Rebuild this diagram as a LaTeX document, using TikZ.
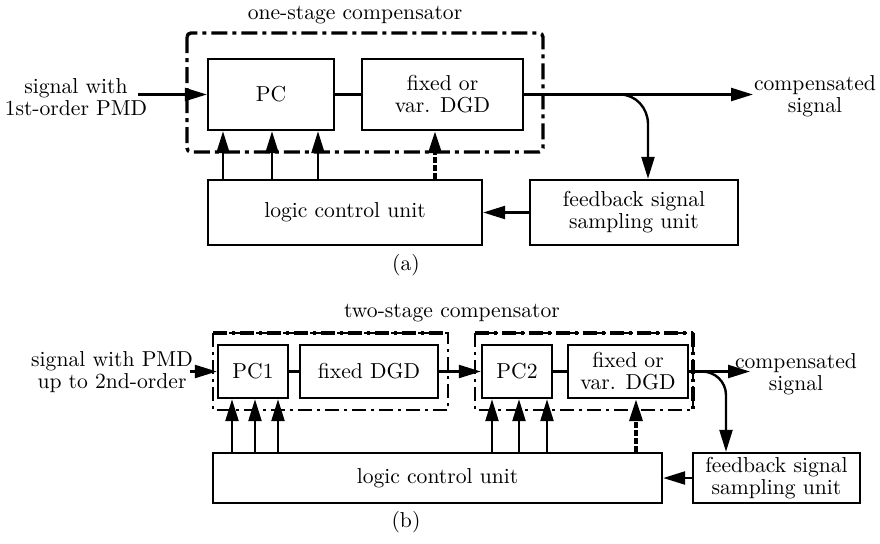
\documentclass[tikz,border=0pt]{standalone}
\usetikzlibrary{arrows.meta}
\begin{document}
\begin{tikzpicture}[x=0.5pt,y=-0.5pt,
  font=\fontsize{10.8}{11}\selectfont,
  blk/.style={draw,line width=1.2pt,inner sep=0pt,align=center},
  lbl/.style={inner sep=0pt,align=center},
  arr/.style={line width=1.2pt,-{Triangle[length=11pt,width=6.5pt]}},
  ln/.style={line width=1.2pt},
  ctl/.style={line width=1.8pt,dash pattern=on 3pt off 1pt,-{Triangle[length=11pt,width=6.5pt]}},
  stagea/.style={line width=1.7pt,dash pattern=on 8pt off 2.5pt on 2pt off 2.5pt,rounded corners=2pt},
  stageb/.style={line width=0.8pt,dash pattern=on 7pt off 2.5pt on 1.5pt off 2.5pt},
  stagetop/.style={line width=1.6pt,dash pattern=on 7pt off 2.5pt on 1.5pt off 2.5pt}]
\useasboundingbox (0,0) rectangle (880,543);

% ---------------- (a) ----------------
\node[lbl] (ttla) at (355,15) {one-stage compensator};
\draw[stagea] (187,33) rectangle (543,152);
\node[blk,minimum width=63pt,minimum height=35.5pt] (pc) at (271,94.5) {PC};
\node[blk,minimum width=80.5pt,minimum height=35.5pt] (dgda) at (442.5,94.5) {fixed or\\var. DGD};
\node[blk,minimum width=137pt,minimum height=32.5pt] (logica) at (345,212.5) {logic control unit};
\node[blk,minimum width=104pt,minimum height=32.5pt] (fba) at (634,212.5) {feedback signal\\sampling unit};
\node[lbl] (ina) at (76,97) {signal with\\1st-order PMD};
\node[lbl] (outta) at (815,96) {compensated\\signal};
\node[lbl] (capa) at (406,265) {(a)};
\coordinate (ina0) at (138,94.5);
\coordinate (outa) at (753,94.5);
\coordinate (bra) at (620,94.5);
\coordinate (bra2) at (648,124);

\draw[arr] (ina0) -- (pc.west);
\draw[ln] (pc.east) -- (dgda.west);
\draw[arr] (dgda.east) -- (outa);
\draw[arr] (bra) to[out=0,in=90] (bra2) -- (bra2 |- fba.north);
\draw[arr] (fba.west) -- (logica.east);
\draw[arr] (223,0 |- logica.north) -- (223,0 |- pc.south);
\draw[arr] (272,0 |- logica.north) -- (272,0 |- pc.south);
\draw[arr] (318,0 |- logica.north) -- (318,0 |- pc.south);
\draw[ctl] (435,0 |- logica.north) -- (435,0 |- dgda.south);

% ---------------- (b) ----------------
\node[lbl] (ttlb) at (452,313) {two-stage compensator};
\draw[stageb] (213,333) rectangle (448,410);
\draw[stagetop] (213,333) -- (448,333);
\draw[stageb] (475,333) rectangle (693,410);
\draw[stagetop] (475,333) -- (693,333);
\draw[stagetop] (693,333) -- (693,410);
\node[blk,minimum width=35pt,minimum height=26.5pt] (pc1) at (253,371.5) {PC1};
\node[blk,minimum width=69pt,minimum height=26.5pt] (dgdf) at (369,371.5) {fixed DGD};
\node[blk,minimum width=35pt,minimum height=26.5pt] (pc2) at (517,371.5) {PC2};
\node[blk,minimum width=60pt,minimum height=26.5pt] (dgdb) at (628,371.5) {fixed or\\var. DGD};
\node[blk,minimum width=224.5pt,minimum height=25pt] (logicb) at (437.5,478) {logic control unit};
\node[blk,minimum width=83.5pt,minimum height=25pt] (fbb) at (776.5,478) {feedback signal\\sampling unit};
\node[lbl] (inb) at (112,372) {signal with PMD\\up to 2nd-order};
\node[lbl] (outtb) at (796,374) {compensated\\signal};
\node[lbl] (capb) at (406,522) {(b)};
\coordinate (inb0) at (190,371.5);
\coordinate (outb) at (750,371.5);
\coordinate (brb) at (702,371.5);
\coordinate (brb2) at (726,395);

\draw[arr] (inb0) -- (pc1.west);
\draw[ln] (pc1.east) -- (dgdf.west);
\draw[arr] (dgdf.east) -- (pc2.west);
\draw[ln] (pc2.east) -- (dgdb.west);
\draw[arr] (dgdb.east) -- (outb);
\draw[arr] (brb) to[out=0,in=90] (brb2) -- (brb2 |- fbb.north);
\draw[arr] (fbb.west) -- (logicb.east);
\draw[arr] (232,0 |- logicb.north) -- (232,0 |- pc1.south);
\draw[arr] (255,0 |- logicb.north) -- (255,0 |- pc1.south);
\draw[arr] (278,0 |- logicb.north) -- (278,0 |- pc1.south);
\draw[arr] (492,0 |- logicb.north) -- (492,0 |- pc2.south);
\draw[arr] (519,0 |- logicb.north) -- (519,0 |- pc2.south);
\draw[arr] (547,0 |- logicb.north) -- (547,0 |- pc2.south);
\draw[ctl] (636,0 |- logicb.north) -- (636,0 |- dgdb.south);
\end{tikzpicture}
\end{document}
